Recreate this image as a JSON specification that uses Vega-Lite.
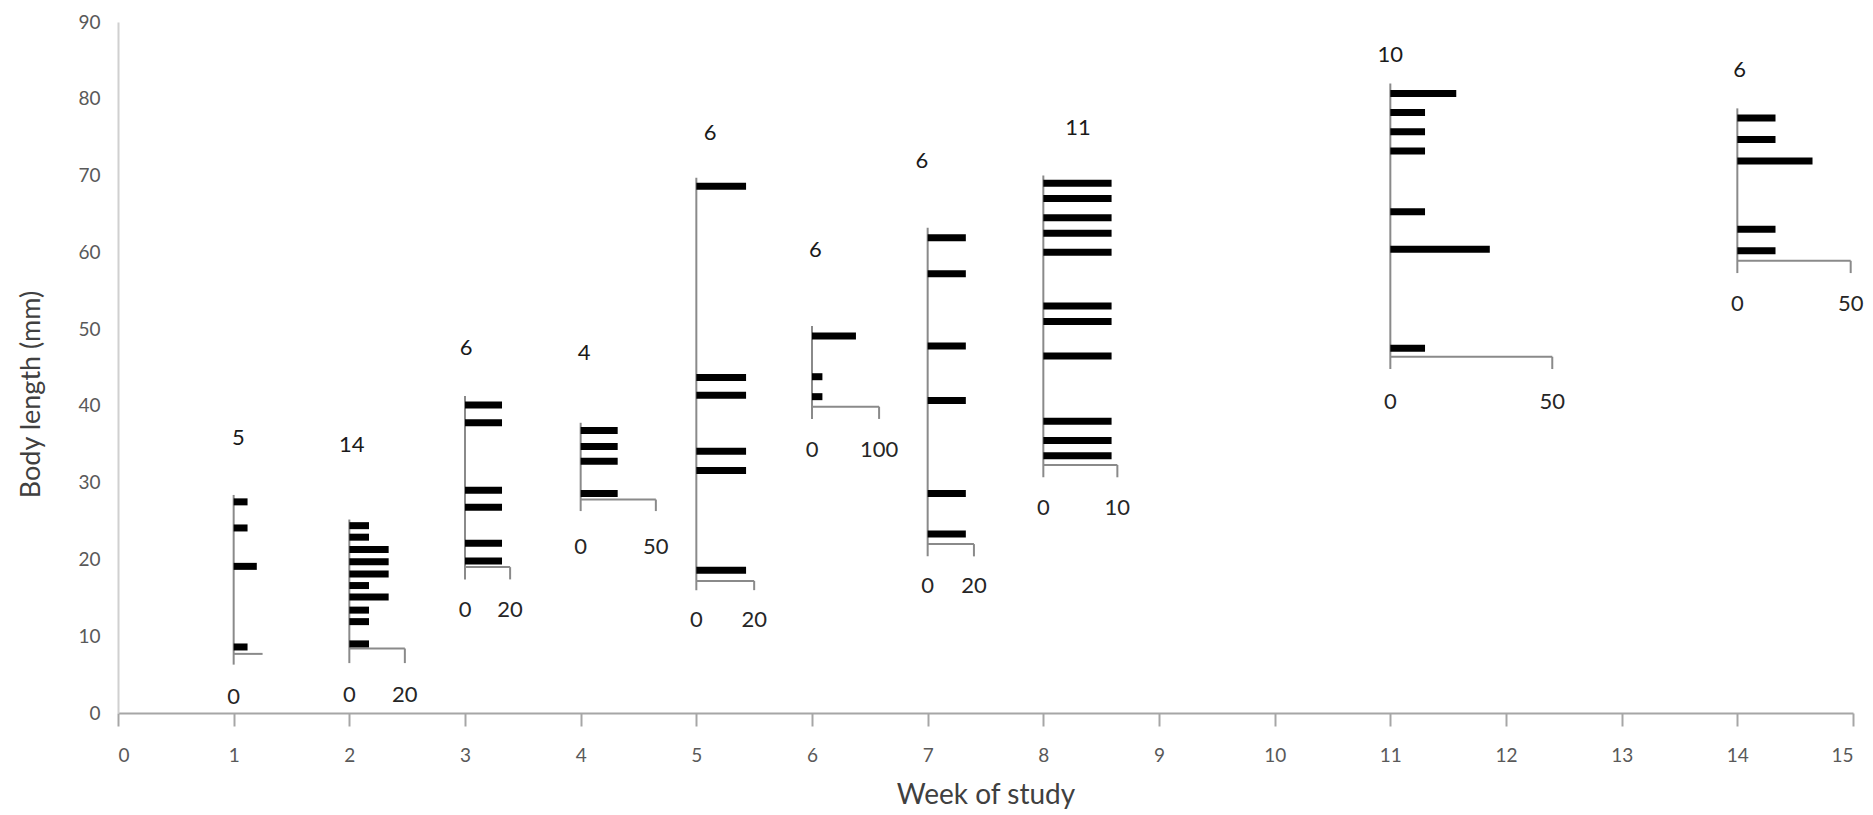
{
  "$schema": "https://vega.github.io/schema/vega-lite/v6.json",
  "autosize": "none",
  "width": 1735,
  "height": 691,
  "padding": {"left": 118, "top": 22, "right": 20, "bottom": 102},
  "background": "white",
  "config": {
    "view": {"stroke": null},
    "font": "Lato",
    "axis": {"grid": false, "labelFont": "Lato", "titleFont": "Lato", "labelColor": "#595959", "titleColor": "#404040", "titleFontWeight": "normal"}
  },
  "datasets": {
    "axes": [
      {"week": 1, "lo": 6.3, "hi": 28.4, "axisY": 7.7, "end": 1.25, "labY": 2.1, "maxLabel": "", "n": "5", "nx": 1.04, "ny": 35.8},
      {"week": 2, "lo": 6.5, "hi": 25.2, "axisY": 8.4, "end": 2.48, "labY": 2.3, "maxLabel": "20", "n": "14", "nx": 2.02, "ny": 34.9},
      {"week": 3, "lo": 17.4, "hi": 41.3, "axisY": 19.0, "end": 3.39, "labY": 13.4, "maxLabel": "20", "n": "6", "nx": 3.01, "ny": 47.5},
      {"week": 4, "lo": 26.3, "hi": 37.8, "axisY": 27.8, "end": 4.65, "labY": 21.6, "maxLabel": "50", "n": "4", "nx": 4.03, "ny": 46.9},
      {"week": 5, "lo": 16.0, "hi": 69.7, "axisY": 17.2, "end": 5.5, "labY": 12.1, "maxLabel": "20", "n": "6", "nx": 5.12, "ny": 75.5},
      {"week": 6, "lo": 38.3, "hi": 50.4, "axisY": 39.9, "end": 6.58, "labY": 34.3, "maxLabel": "100", "n": "6", "nx": 6.03, "ny": 60.3},
      {"week": 7, "lo": 20.4, "hi": 63.2, "axisY": 22.0, "end": 7.4, "labY": 16.6, "maxLabel": "20", "n": "6", "nx": 6.95, "ny": 71.9},
      {"week": 8, "lo": 30.7, "hi": 70.0, "axisY": 32.3, "end": 8.64, "labY": 26.7, "maxLabel": "10", "n": "11", "nx": 8.3, "ny": 76.2},
      {"week": 11, "lo": 44.8, "hi": 82.0, "axisY": 46.4, "end": 12.4, "labY": 40.5, "maxLabel": "50", "n": "10", "nx": 11.0, "ny": 85.7},
      {"week": 14, "lo": 57.3, "hi": 78.75, "axisY": 58.9, "end": 14.98, "labY": 53.3, "maxLabel": "50", "n": "6", "nx": 14.02, "ny": 83.7}
    ],
    "hist": [
      {"week": 1, "len": 27.5, "end": 1.12},
      {"week": 1, "len": 24.1, "end": 1.12},
      {"week": 1, "len": 19.1, "end": 1.2},
      {"week": 1, "len": 8.6, "end": 1.12},
      {"week": 2, "len": 24.4, "end": 2.17},
      {"week": 2, "len": 22.9, "end": 2.17},
      {"week": 2, "len": 21.3, "end": 2.34},
      {"week": 2, "len": 19.7, "end": 2.34},
      {"week": 2, "len": 18.1, "end": 2.34},
      {"week": 2, "len": 16.6, "end": 2.17},
      {"week": 2, "len": 15.1, "end": 2.34},
      {"week": 2, "len": 13.4, "end": 2.17},
      {"week": 2, "len": 11.9, "end": 2.17},
      {"week": 2, "len": 9.0, "end": 2.17},
      {"week": 3, "len": 40.1, "end": 3.32},
      {"week": 3, "len": 37.8, "end": 3.32},
      {"week": 3, "len": 29.0, "end": 3.32},
      {"week": 3, "len": 26.8, "end": 3.32},
      {"week": 3, "len": 22.1, "end": 3.32},
      {"week": 3, "len": 19.8, "end": 3.32},
      {"week": 4, "len": 36.8, "end": 4.32},
      {"week": 4, "len": 34.7, "end": 4.32},
      {"week": 4, "len": 32.8, "end": 4.32},
      {"week": 4, "len": 28.6, "end": 4.32},
      {"week": 5, "len": 68.6, "end": 5.43},
      {"week": 5, "len": 43.7, "end": 5.43},
      {"week": 5, "len": 41.4, "end": 5.43},
      {"week": 5, "len": 34.1, "end": 5.43},
      {"week": 5, "len": 31.6, "end": 5.43},
      {"week": 5, "len": 18.6, "end": 5.43},
      {"week": 6, "len": 49.1, "end": 6.38},
      {"week": 6, "len": 43.8, "end": 6.09},
      {"week": 6, "len": 41.2, "end": 6.09},
      {"week": 7, "len": 61.9, "end": 7.33},
      {"week": 7, "len": 57.2, "end": 7.33},
      {"week": 7, "len": 47.8, "end": 7.33},
      {"week": 7, "len": 40.7, "end": 7.33},
      {"week": 7, "len": 28.6, "end": 7.33},
      {"week": 7, "len": 23.3, "end": 7.33},
      {"week": 8, "len": 69.0, "end": 8.59},
      {"week": 8, "len": 67.0, "end": 8.59},
      {"week": 8, "len": 64.5, "end": 8.59},
      {"week": 8, "len": 62.5, "end": 8.59},
      {"week": 8, "len": 60.0, "end": 8.59},
      {"week": 8, "len": 53.0, "end": 8.59},
      {"week": 8, "len": 51.0, "end": 8.59},
      {"week": 8, "len": 46.5, "end": 8.59},
      {"week": 8, "len": 38.0, "end": 8.59},
      {"week": 8, "len": 35.5, "end": 8.59},
      {"week": 8, "len": 33.5, "end": 8.59},
      {"week": 11, "len": 80.7, "end": 11.57},
      {"week": 11, "len": 78.2, "end": 11.3},
      {"week": 11, "len": 75.7, "end": 11.3},
      {"week": 11, "len": 73.2, "end": 11.3},
      {"week": 11, "len": 65.3, "end": 11.3},
      {"week": 11, "len": 60.4, "end": 11.86},
      {"week": 11, "len": 47.5, "end": 11.3},
      {"week": 14, "len": 77.5, "end": 14.33},
      {"week": 14, "len": 74.7, "end": 14.33},
      {"week": 14, "len": 71.9, "end": 14.65},
      {"week": 14, "len": 63.0, "end": 14.33},
      {"week": 14, "len": 60.2, "end": 14.33}
    ]
  },
  "encoding": {
    "x": {"type": "quantitative", "scale": {"domain": [0, 15], "nice": false, "zero": false}},
    "y": {"type": "quantitative", "scale": {"domain": [0, 90], "nice": false, "zero": false}}
  },
  "layer": [
    {
      "data": {"name": "axes"},
      "mark": {"type": "rule", "color": "#8a8a8a", "strokeWidth": 2},
      "encoding": {
        "x": {"field": "week", "type": "quantitative",
          "axis": {"values": [0,1,2,3,4,5,6,7,8,9,10,11,12,13,14,15], "format": "d", "title": "Week of study", "titleFontSize": 28, "labelFontSize": 19, "tickSize": 13, "tickColor": "#a6a6a6", "domainColor": "#a6a6a6", "domainWidth": 2, "tickWidth": 2, "labelPadding": 20, "titlePadding": 16}},
        "y": {"field": "lo", "type": "quantitative",
          "axis": {"values": [0,10,20,30,40,50,60,70,80,90], "format": "d", "title": "Body length (mm)", "titleFontSize": 27, "titleY": 372, "labelFontSize": 19, "tickSize": 0, "domainColor": "#d0d0d0", "domainWidth": 2, "labelPadding": 18, "titlePadding": 32}},
        "y2": {"field": "hi"}
      }
    },
    {
      "data": {"name": "axes"},
      "mark": {"type": "rule", "color": "#8a8a8a", "strokeWidth": 2},
      "encoding": {
        "x": {"field": "week", "type": "quantitative"},
        "x2": {"field": "end"},
        "y": {"field": "axisY", "type": "quantitative"}
      }
    },
    {
      "data": {"name": "axes"},
      "transform": [{"filter": "datum.maxLabel != ''"}],
      "mark": {"type": "rule", "color": "#8a8a8a", "strokeWidth": 2},
      "encoding": {
        "x": {"field": "end", "type": "quantitative"},
        "y": {"field": "axisY", "type": "quantitative"},
        "y2": {"field": "lo"}
      }
    },
    {
      "data": {"name": "hist"},
      "mark": {"type": "rule", "color": "#000000", "strokeWidth": 7, "strokeCap": "butt"},
      "encoding": {
        "x": {"field": "week", "type": "quantitative"},
        "x2": {"field": "end"},
        "y": {"field": "len", "type": "quantitative"}
      }
    },
    {
      "data": {"name": "axes"},
      "mark": {"type": "text", "text": "0", "fontSize": 22, "color": "#262626", "align": "center", "baseline": "middle"},
      "encoding": {
        "x": {"field": "week", "type": "quantitative"},
        "y": {"field": "labY", "type": "quantitative"}
      }
    },
    {
      "data": {"name": "axes"},
      "mark": {"type": "text", "fontSize": 22, "color": "#262626", "align": "center", "baseline": "middle"},
      "encoding": {
        "x": {"field": "end", "type": "quantitative"},
        "y": {"field": "labY", "type": "quantitative"},
        "text": {"field": "maxLabel"}
      }
    },
    {
      "data": {"name": "axes"},
      "mark": {"type": "text", "fontSize": 22, "color": "#1a1a1a", "align": "center", "baseline": "middle"},
      "encoding": {
        "x": {"field": "nx", "type": "quantitative"},
        "y": {"field": "ny", "type": "quantitative"},
        "text": {"field": "n"}
      }
    }
  ]
}
